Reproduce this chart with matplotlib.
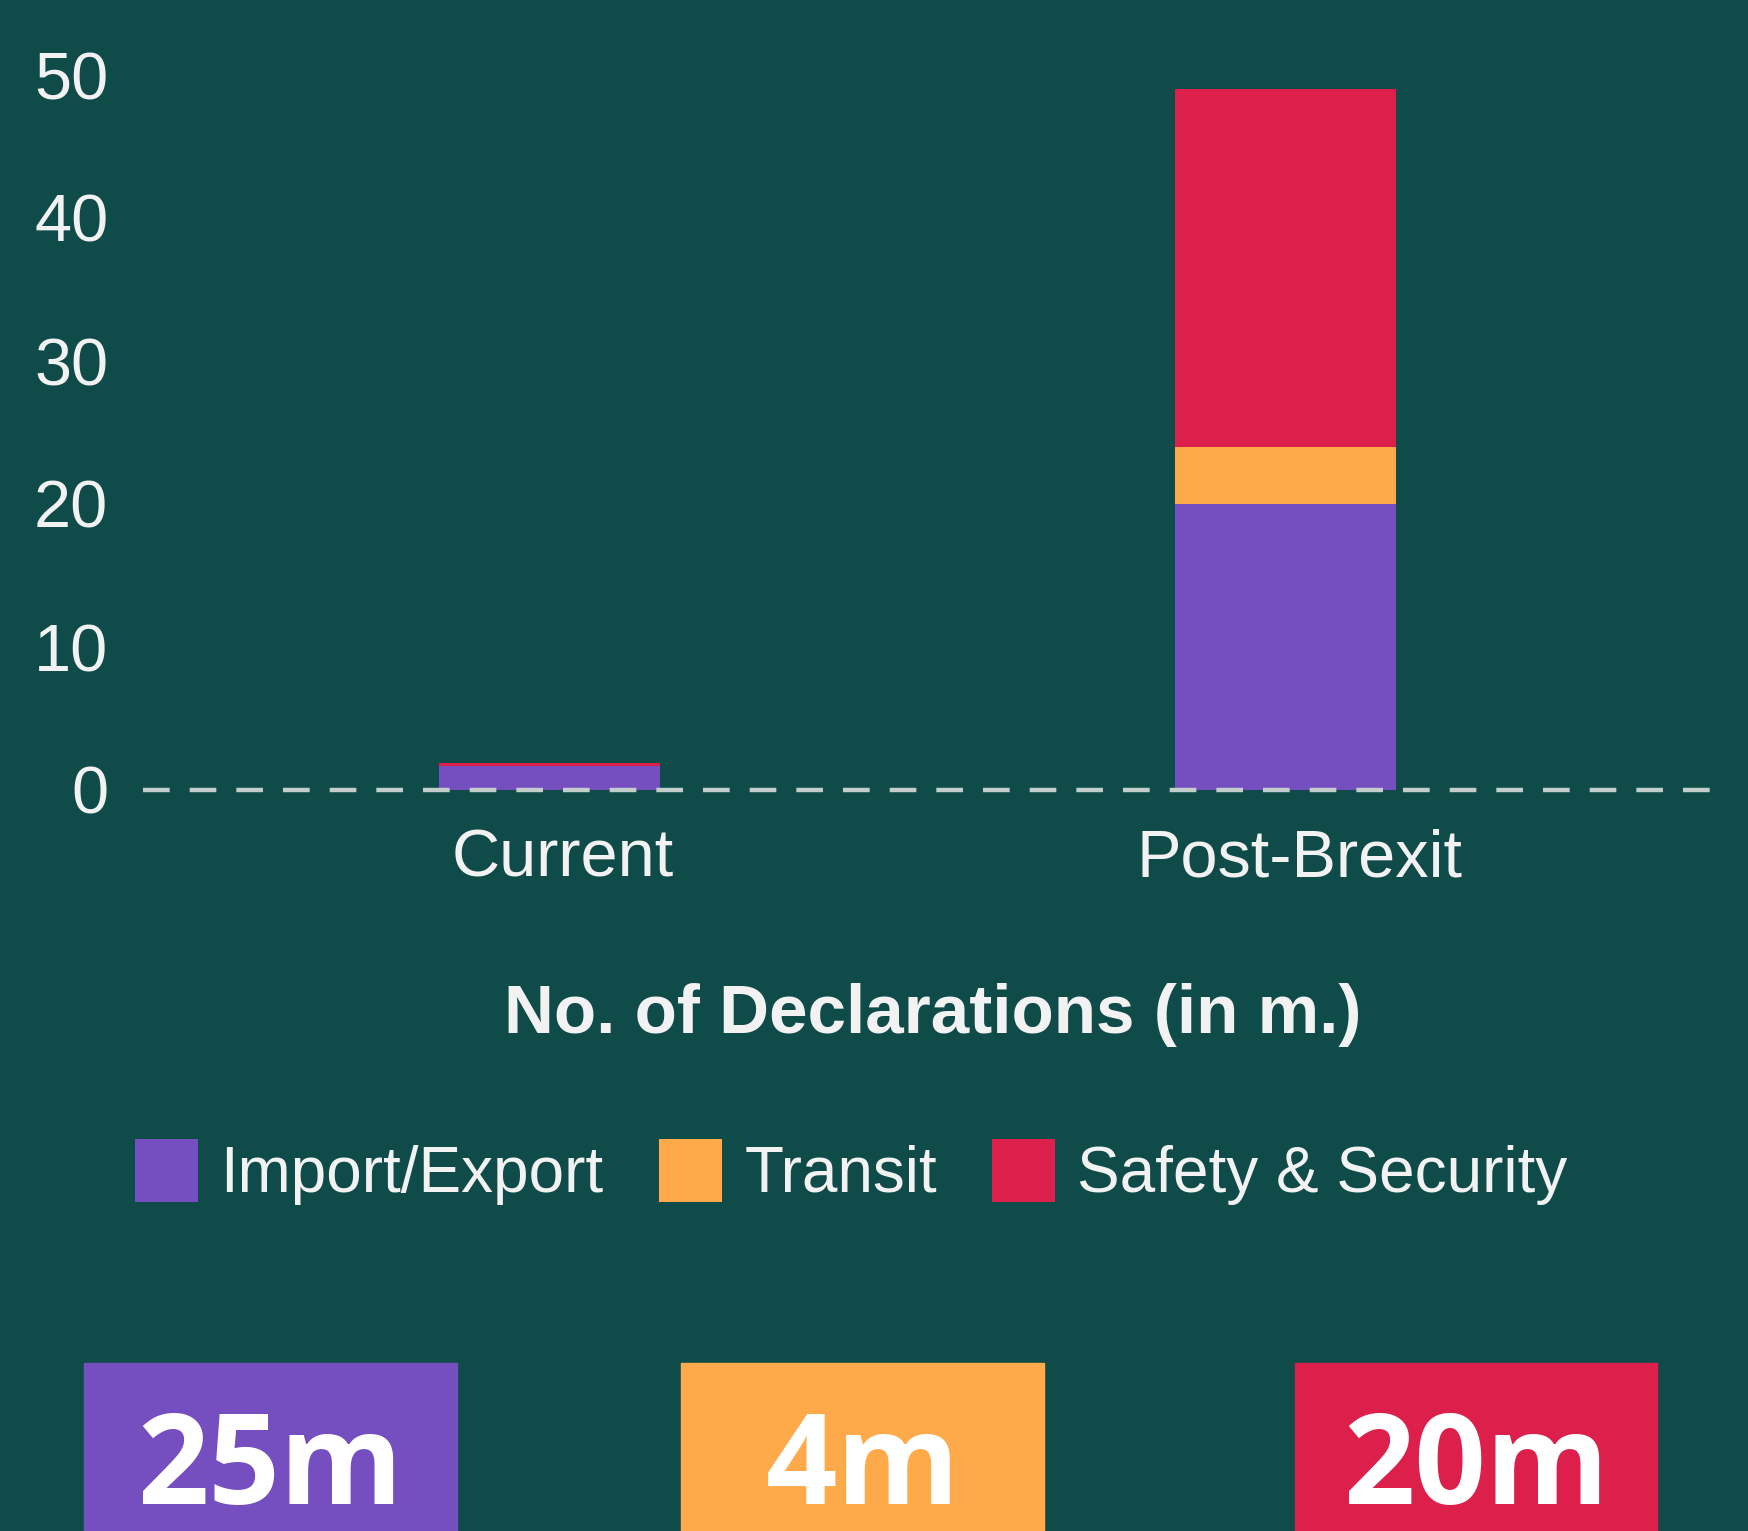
import matplotlib
matplotlib.use('Agg')
import matplotlib.pyplot as plt
from matplotlib.patches import Rectangle
from matplotlib.transforms import ScaledTranslation
import numpy as np

# data (millions of declarations)
categories = ['Current', 'Post-Brexit']
import_export = [1.65, 20.0]
transit = [0.05, 4.0]
safety = [0.2, 25.0]
series_names = ['Import/Export', 'Transit', 'Safety & Security']
y_ticks = [0, 10, 20, 30, 40, 50]
box_labels = ['25m', '4m', '20m']

bg = '#0e4b49'
cols = ['#754ec0', '#ffaa4a', '#dd1f4b']
txt = '#f2f2f2'

plt.rcParams['font.family'] = ['Liberation Sans', 'DejaVu Sans']

W, H = 1749, 1531
fig = plt.figure(figsize=(W / 100, H / 100), dpi=100, facecolor=bg)

# axes placed in pixels: left 143, right 1723, zero at 790, 50 at 75
ax = fig.add_axes([143 / W, (H - 790) / H, (1723 - 143) / W, (790 - 75) / H])
ax.set_facecolor(bg)

x = np.arange(len(categories))
bw = 0.30
b1 = ax.bar(x, import_export, bw, color=cols[0], zorder=2)
bottom2 = np.array(import_export)
b2 = ax.bar(x, transit, bw, bottom=bottom2, color=cols[1], zorder=2)
bottom3 = bottom2 + np.array(transit)
b3 = ax.bar(x, safety, bw, bottom=bottom3, color=cols[2], zorder=2)

ax.axhline(0, color='#c3cdcb', lw=3.2, dashes=(6, 4.5), zorder=3, clip_on=False)

ax.set_xlim(-0.552, 1.595)
ax.set_ylim(0, 50)
ax.set_yticks(y_ticks)
ax.set_xticks(x)
ax.set_xticklabels(categories)
ax.tick_params(axis='y', length=0, pad=25, labelsize=48, labelcolor=txt)
ax.tick_params(axis='x', length=0, pad=28, labelsize=48, labelcolor=txt)
shift = ScaledTranslation(0.14, 0, fig.dpi_scale_trans)
for lab in ax.get_xticklabels():
    lab.set_transform(lab.get_transform() + shift)
for s in ax.spines.values():
    s.set_visible(False)

ax.set_xlabel('No. of Declarations (in m.)', fontsize=49.8, fontweight='bold',
              color=txt, va='center')
ax.xaxis.set_label_coords(0.5, -0.314)

fig.legend([b1, b2, b3], series_names, loc='center left',
           bbox_to_anchor=(135 / W, 1 - 1172 / H), ncol=3, frameon=False,
           fontsize=46, labelcolor=txt, handlelength=0.99, handleheight=1.13,
           handletextpad=0.35, columnspacing=0.86, borderpad=0, borderaxespad=0)

# coloured value boxes along the bottom
box_x = [(84, 457), (681, 1044), (1295, 1657)]
for (x0, x1), c, lab in zip(box_x, cols, box_labels):
    fig.patches.append(Rectangle((x0 / W, 0), (x1 - x0) / W, (H - 1363) / H,
                                 transform=fig.transFigure, color=c))
    fig.text((x0 + x1) / 2 / W, (H - 1504) / H, lab, ha='center', va='baseline',
             fontsize=90, fontweight='bold', color='white',
             family=['Open Sans', 'DejaVu Sans'])

fig.savefig('out.png', dpi=100, facecolor=bg)
